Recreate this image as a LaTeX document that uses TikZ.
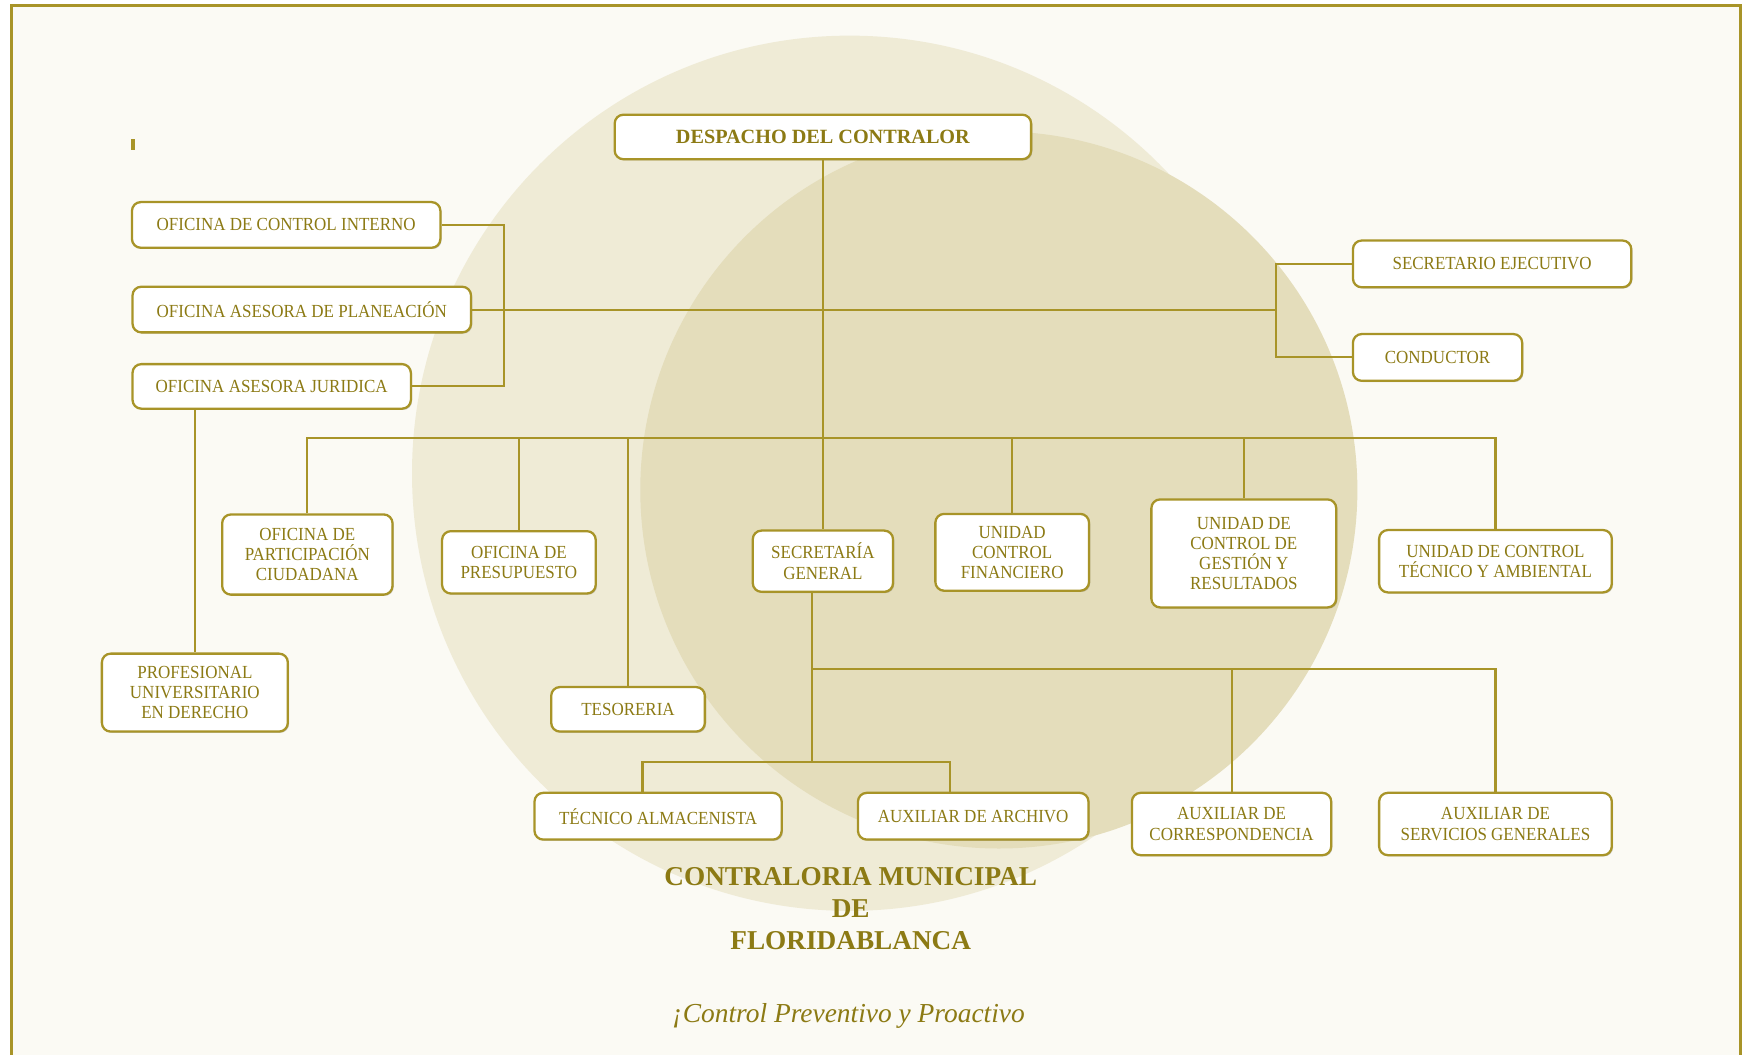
\documentclass[tikz,border=0pt]{standalone}
\usepackage{fontspec}
\setmainfont{Liberation Serif}
\newfontfamily\cajafont[FakeStretch=0.92]{Liberation Serif}
\usetikzlibrary{shadows}

\definecolor{fondo}{RGB}{251,250,244}
\definecolor{claro}{RGB}{239,235,214}
\definecolor{oscuro}{RGB}{228,221,187}
\definecolor{ocre}{RGB}{168,148,40}
\definecolor{tinta}{RGB}{140,122,20}
\newcommand{\px}{0.02227cm}

\begin{document}
\begin{tikzpicture}[
    x=\px, y=-\px,
    caja/.style={rectangle, draw=ocre, line width=1.3pt, rounded corners=5pt, fill=white, text=tinta, align=center, inner sep=1pt,
        font=\cajafont\fontsize{10.5}{11.5}\selectfont,
        drop shadow={shadow xshift=0.7pt, shadow yshift=-0.7pt, fill=black, opacity=0.18}},
    tam/.style 2 args={minimum width=#1*\px, minimum height=#2*\px},
    linea/.style={draw=ocre, line width=1.2pt},
    titulo/.style={text=tinta, align=center, font=\bfseries\fontsize{15.5}{18.4}\selectfont},
    lema/.style={text=tinta, font=\itshape\fontsize{15.6}{18}\selectfont}
]
\useasboundingbox (0,0) rectangle (1568,947);

% Fondo
\fill[white] (0,0) rectangle (1568,947);
\fill[fondo] (10,5) rectangle (1563,947);
\draw[ocre, line width=1.8pt] (10,950) -- (10,5) -- (1563,5) -- (1563,950);
\fill[claro] (763,425) circle[radius=393];
\fill[oscuro] (897,440) circle[radius=322];
\fill[ocre] (118,125) rectangle (121,135);

% Nodos
\node[caja, tam={374}{40}, font=\bfseries\fontsize{11.5}{13}\selectfont] (desp) at (739,123) {DESPACHO DEL CONTRALOR};
\node[caja, tam={277}{41}] (ci) at (257,202) {OFICINA DE CONTROL INTERNO};
\node[caja, tam={304}{41}] (plan) at (271,278) {OFICINA ASESORA DE PLANEACIÓN};
\node[caja, tam={250}{40}] (jur) at (244,347) {OFICINA ASESORA JURIDICA};
\node[caja, tam={250}{42}] (secej) at (1340,237) {SECRETARIO EJECUTIVO};
\node[caja, tam={152}{42}] (cond) at (1291,321) {CONDUCTOR};

\node[caja, tam={153}{72}] (part) at (276,498) {OFICINA DE\\PARTICIPACIÓN\\CIUDADANA};
\node[caja, tam={138}{56}] (pres) at (466,505) {OFICINA DE\\PRESUPUESTO};
\node[caja, tam={126}{55}] (secg) at (739,504) {SECRETARÍA\\GENERAL};
\node[caja, tam={138}{69}] (fin) at (909,496) {UNIDAD\\CONTROL\\FINANCIERO};
\node[caja, tam={166}{97}] (gest) at (1117,497) {UNIDAD DE\\CONTROL DE\\GESTIÓN Y\\RESULTADOS};
\node[caja, tam={209}{56}] (tecamb) at (1343,504) {UNIDAD DE CONTROL\\TÉCNICO Y AMBIENTAL};

\node[caja, tam={167}{70}] (prof) at (175,622) {PROFESIONAL\\UNIVERSITARIO\\EN DERECHO};
\node[caja, tam={138}{40}] (tes) at (564,637) {TESORERIA};
\node[caja, tam={222}{42}] (alm) at (591,733) {TÉCNICO ALMACENISTA};
\node[caja, tam={207}{42}] (arch) at (874,733) {AUXILIAR DE ARCHIVO};
\node[caja, tam={179}{56}] (corr) at (1106,740) {AUXILIAR DE\\CORRESPONDENCIA};
\node[caja, tam={209}{56}] (serv) at (1343,740) {AUXILIAR DE\\SERVICIOS GENERALES};

\node[titulo] (tit) at (764,816) {CONTRALORIA MUNICIPAL\\DE\\FLORIDABLANCA};
\node[lema] (lem) at (762,912) {¡Control Preventivo y Proactivo};

% Puntos de union
\coordinate (izq) at (453,278);
\coordinate (der) at (1146,278);
\coordinate (bus) at (739,393);
\coordinate (ramas) at (729,601);
\coordinate (base) at (729,684);
\coordinate (ra) at (577,684);
\coordinate (rb) at (853,684);

% Lineas
\draw[linea] (desp) -- (secg);
\draw[linea] (plan) -- (der);
\draw[linea] (ci) -| (izq) |- (jur);
\draw[linea] (secej) -| (der) |- (cond);
\draw[linea] (prof) -- (prof |- jur.south);
\draw[linea] (part) |- (bus) -| (tecamb);
\foreach \n in {pres,tes,fin,gest}
    \draw[linea] (\n) -- (\n |- bus);
\draw[linea] (secg.south -| ramas) -- (base);
\draw[linea] (ramas) -| (serv);
\draw[linea] (corr) -- (corr |- ramas);
\draw[linea] (ra |- alm.north) -- (ra) -- (rb) -- (rb |- arch.north);

\end{tikzpicture}
\end{document}
